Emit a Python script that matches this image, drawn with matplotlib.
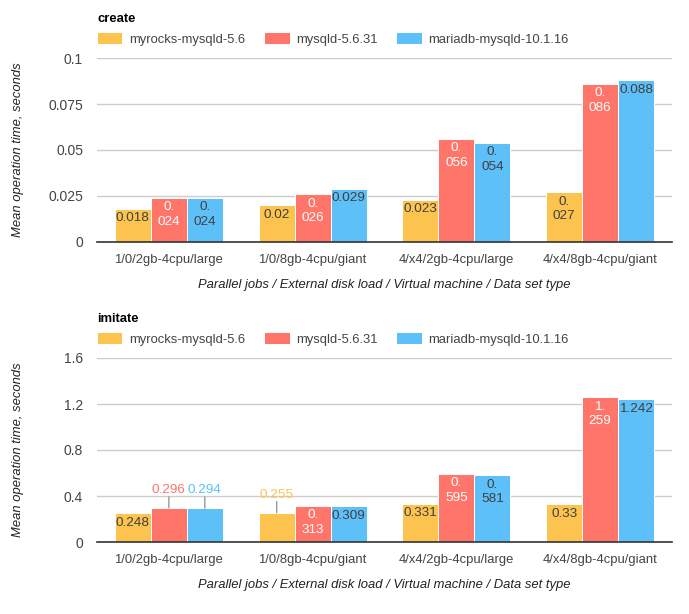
import matplotlib.pyplot as plt
import numpy as np

plt.rcParams["font.family"] = ["Liberation Sans", "DejaVu Sans"]

CATEGORIES = [
    "1/0/2gb-4cpu/large",
    "1/0/8gb-4cpu/giant",
    "4/x4/2gb-4cpu/large",
    "4/x4/8gb-4cpu/giant",
]
SERIES = ["myrocks-mysqld-5.6", "mysqld-5.6.31", "mariadb-mysqld-10.1.16"]
COLORS = ["#fcc44f", "#ff756a", "#5ec0f9"]
LABEL_COLORS = ["#404040", "#ffffff", "#404040"]

CREATE = [
    [0.018, 0.02, 0.023, 0.027],
    [0.024, 0.026, 0.056, 0.086],
    [0.024, 0.029, 0.054, 0.088],
]
IMITATE = [
    [0.248, 0.255, 0.331, 0.33],
    [0.296, 0.313, 0.595, 1.259],
    [0.294, 0.309, 0.581, 1.242],
]

# how the chart tool placed each data label: "in", "wrap" (split after the dot), "out"
CREATE_LABELS = [
    ["in", "in", "in", "wrap"],
    ["wrap", "wrap", "wrap", "wrap"],
    ["wrap", "in", "wrap", "in"],
]
IMITATE_LABELS = [
    ["in", "out", "in", "in"],
    ["out", "wrap", "wrap", "wrap"],
    ["out", "in", "wrap", "in"],
]

W, H = 689, 614
FS = 9.4
TXT = "#444444"


def fmt(v):
    return f"{v:g}"


def panel(rect, title, data, modes, ymax, ticks, ticklabels):
    left, top, right, bottom = rect
    ax = fig.add_axes([left / W, 1 - bottom / H, (right - left) / W, (bottom - top) / H])
    x = np.arange(len(CATEGORIES))
    bw = 0.25
    for i, (name, vals) in enumerate(zip(SERIES, data)):
        xs = x + (i - 1) * bw
        ax.bar(xs, vals, width=bw, color=COLORS[i], edgecolor="white",
               linewidth=0.7, label=name, zorder=2)
        for xi, v, m in zip(xs, vals, modes[i]):
            txt = fmt(v)
            if m == "out":
                ax.annotate("", xy=(xi, v), xytext=(0, 8), textcoords="offset points",
                            arrowprops=dict(arrowstyle="-", color="#999999", lw=1,
                                            shrinkA=0, shrinkB=0))
                ax.annotate(txt, xy=(xi, v), xytext=(0, 13), textcoords="offset points",
                            ha="center", va="center", color=COLORS[i], fontsize=FS + 0.3)
                continue
            if m == "wrap":
                head, tail = txt.split(".")
                txt = head + ".\n" + tail
            ax.annotate(txt, xy=(xi, v), xytext=(0, -2.5), textcoords="offset points",
                        ha="center", va="top", color=LABEL_COLORS[i], fontsize=FS + 0.3,
                        linespacing=1.3)

    ax.set_xlim(-0.5, len(CATEGORIES) - 0.5)
    ax.set_ylim(0, ymax)
    ax.set_yticks(ticks)
    ax.set_yticklabels(ticklabels)
    ax.set_xticks(x)
    ax.set_xticklabels(CATEGORIES)
    ax.tick_params(axis="y", length=0, pad=10, labelsize=FS + 0.6, labelcolor=TXT)
    ax.tick_params(axis="x", length=0, pad=9, labelsize=FS, labelcolor=TXT)
    ax.grid(axis="y", color="#cccccc", linewidth=1, zorder=0)
    for s in ["top", "right", "left"]:
        ax.spines[s].set_visible(False)
    ax.spines["bottom"].set_color("#333333")
    ax.spines["bottom"].set_linewidth(1.2)
    ax.spines["bottom"].set_zorder(3)
    ax.set_xlabel("Parallel jobs / External disk load / Virtual machine / Data set type",
                  style="italic", fontsize=FS, color="#222222", labelpad=9)

    ph = bottom - top
    ax.text(0, (ph + 39) / ph, title, transform=ax.transAxes,
            fontweight="bold", fontsize=FS, va="center", ha="left", color="black")
    ax.legend(loc="center left", bbox_to_anchor=(0, (ph + 19) / ph), ncol=3,
              frameon=False, fontsize=FS, handlelength=1.95, handleheight=1.0,
              handletextpad=0.5, columnspacing=1.45, borderpad=0, borderaxespad=0,
              labelcolor=TXT)
    fig.text(18 / W, 1 - (top + bottom) / 2 / H, "Mean operation time, seconds",
             rotation=90, style="italic", fontsize=FS, color="#222222",
             ha="center", va="center")
    return ax


fig = plt.figure(figsize=(W / 100, H / 100), dpi=100)
panel((97, 58, 672, 242), "create", CREATE, CREATE_LABELS, 0.1,
      [0, 0.025, 0.05, 0.075, 0.1], ["0", "0.025", "0.05", "0.075", "0.1"])
panel((97, 358, 672, 542), "imitate", IMITATE, IMITATE_LABELS, 1.6,
      [0, 0.4, 0.8, 1.2, 1.6], ["0", "0.4", "0.8", "1.2", "1.6"])
fig.savefig("out.png", dpi=100)
